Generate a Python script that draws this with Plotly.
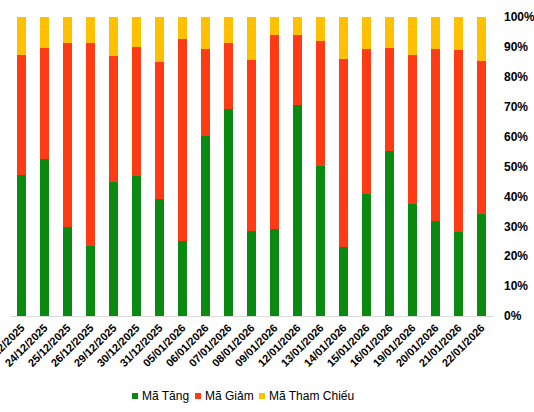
import plotly.graph_objects as go

dates = ["23/12/2025", "24/12/2025", "25/12/2025", "26/12/2025", "29/12/2025", "30/12/2025",
         "31/12/2025", "05/01/2026", "06/01/2026", "07/01/2026", "08/01/2026", "09/01/2026",
         "12/01/2026", "13/01/2026", "14/01/2026", "15/01/2026", "16/01/2026", "19/01/2026",
         "20/01/2026", "21/01/2026", "22/01/2026"]
tang = [47.2, 52.5, 29.8, 23.5, 44.9, 46.9, 39.1, 25.2, 60.3, 69.2, 28.5,
        29.1, 70.6, 50.3, 23.1, 40.9, 55.2, 37.6, 31.8, 28.2, 34.2]
giam = [40.1, 37.1, 61.5, 67.8, 42.1, 43.1, 45.8, 67.4, 29.0, 22.1, 57.1,
        64.9, 23.4, 41.7, 62.9, 48.4, 34.4, 49.7, 57.5, 60.8, 51.1]
tham_chieu = [round(100 - a - b, 1) for a, b in zip(tang, giam)]

names = ["Mã Tăng", "Mã Giảm", "Mã Tham Chiếu"]
colors = ["#0B8A12", "#FF3B14", "#FFC000"]
values = [tang, giam, tham_chieu]

W, H = 534, 412
ML, MR, MT, MB = 10, 41, 17, 96
PW, PH = W - ML - MR, H - MT - MB

def px_x(px):
    return (px - ML) / PW

def px_y(py):
    return (H - MB - py) / PH

fig = go.Figure()
for name, vals, color in zip(names, values, colors):
    fig.add_trace(go.Bar(x=dates, y=[v / 100 for v in vals], name=name, marker_color=color,
                         marker_line_width=0, showlegend=False))

# custom legend (squares + text) placed like the reference
legend_left = [132, 195, 259]
shapes, annotations = [], []
for name, color, lx in zip(names, colors, legend_left):
    shapes.append(dict(type="rect", xref="paper", yref="paper",
                       x0=px_x(lx), x1=px_x(lx + 6), y0=px_y(399), y1=px_y(393),
                       fillcolor=color, line=dict(width=0)))
    annotations.append(dict(text=name, xref="paper", yref="paper", x=px_x(lx + 8), y=px_y(396),
                            xanchor="left", yanchor="middle", showarrow=False,
                            font=dict(size=12, family="Liberation Sans, Arial", color="#000000")))

fig.update_layout(
    barmode="stack",
    bargap=0.61,
    width=W, height=H,
    margin=dict(l=ML, r=MR, t=MT, b=MB, autoexpand=False),
    paper_bgcolor="white", plot_bgcolor="white",
    font=dict(family="Liberation Sans, Arial", color="#000000"),
    showlegend=False,
    shapes=shapes,
    annotations=annotations,
    xaxis=dict(tickangle=-45, automargin=False,
               tickfont=dict(size=11, family="Liberation Sans, Arial", weight="bold"),
               showline=True, linecolor="#D9D9D9", linewidth=1, showgrid=False, ticks=""),
    yaxis=dict(side="right", range=[0, 1], tickformat=".0%", dtick=0.1, showgrid=False,
               automargin=False, zeroline=False, showline=False, ticklabelstandoff=10,
               tickfont=dict(size=12, family="Liberation Sans, Arial", weight="bold")),
)

fig.write_html("out.html", config={"displayModeBar": False},
               post_script="document.body.style.margin='0';document.body.style.overflow='hidden';")
